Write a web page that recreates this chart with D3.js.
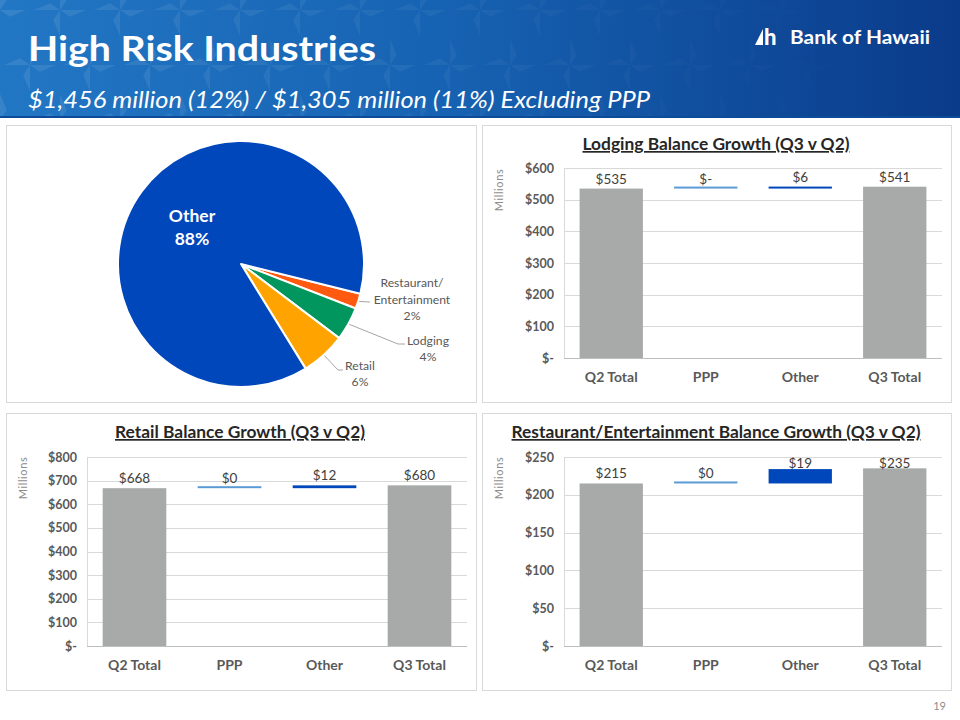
<!DOCTYPE html>
<html>
<head>
<meta charset="utf-8">
<script src="https://cdn.jsdelivr.net/npm/d3@7"></script>
<style>
  html, body { margin: 0; padding: 0; background: #ffffff; }
  svg { display: block; font-family: Lato, "Open Sans", sans-serif; }
</style>
</head>
<body>
<svg id="chart" width="960" height="720"></svg>
<script>
// ---------------- DATA ----------------
const headerTitle = "High Risk Industries";
const headerSubtitle = "$1,456 million (12%) / $1,305 million (11%) Excluding PPP";
const logoText = "Bank of Hawaii";
const pageNumber = "19";

const pieNames = ["Restaurant/Entertainment", "Lodging", "Retail", "Other"];
const pieLabelLines = [["Restaurant/", "Entertainment", "2%"], ["Lodging", "4%"], ["Retail", "6%"], ["Other", "88%"]];
const pieShares = [2.0, 4.4, 5.9, 87.7];

const barCategories = ["Q2 Total", "PPP", "Other", "Q3 Total"];
const barKinds = ["total", "delta", "delta", "total"];

const lodgingTitle = "Lodging Balance Growth (Q3 v Q2)";
const lodgingValues = [535, 0, 6, 541];
const lodgingValueLabels = ["$535", "$-", "$6", "$541"];
const lodgingTicks = [0, 100, 200, 300, 400, 500, 600];

const retailTitle = "Retail Balance Growth (Q3 v Q2)";
const retailValues = [668, 0, 12, 680];
const retailValueLabels = ["$668", "$0", "$12", "$680"];
const retailTicks = [0, 100, 200, 300, 400, 500, 600, 700, 800];

const restTitle = "Restaurant/Entertainment Balance Growth (Q3 v Q2)";
const restValues = [215, 0, 19, 235];
const restValueLabels = ["$215", "$0", "$19", "$235"];
const restTicks = [0, 50, 100, 150, 200, 250];

const axisTitle = "Millions";

// ---------------- DRAW ----------------
const svg = d3.select("#chart");
const defs = svg.append("defs");

// Header background
const grad = defs.append("linearGradient").attr("id", "hdr").attr("x1", "0").attr("x2", "1").attr("y1", "0").attr("y2", "0");
grad.append("stop").attr("offset", "0%").attr("stop-color", "#2277c4");
grad.append("stop").attr("offset", "45%").attr("stop-color", "#1763b3");
grad.append("stop").attr("offset", "100%").attr("stop-color", "#0a3b8a");
svg.append("rect").attr("x", 0).attr("y", 0).attr("width", 960).attr("height", 118).attr("fill", "url(#hdr)");

// subtle star pattern in header
const pat = svg.append("g").attr("opacity", 0.09);
const cols = d3.range(0, 17), rows = d3.range(0, 3);
cols.forEach(c => rows.forEach(r => {
  const cx = c * 60 + (r % 2 ? 30 : 0), cy = r * 55 + 10;
  const fade = Math.max(0, 1 - c / 14);
  const star = d3.range(4).map(k => {
    const a = k * Math.PI / 2;
    return `M${cx},${cy} L${cx + 26 * Math.cos(a)},${cy + 26 * Math.sin(a)} L${cx + 12 * Math.cos(a + 0.6)},${cy + 12 * Math.sin(a + 0.6)} Z`;
  }).join(" ");
  pat.append("path").attr("d", star).attr("fill", "#ffffff").attr("opacity", fade);
}));
svg.append("rect").attr("x", 0).attr("y", 116).attr("width", 960).attr("height", 2).attr("fill", "#0d4a98");

svg.append("text").attr("x", 28).attr("y", 61).attr("fill", "#ffffff")
  .attr("font-size", 35).attr("font-weight", 700)
  .attr("textLength", 348).attr("lengthAdjust", "spacingAndGlyphs").text(headerTitle);
svg.append("text").attr("x", 28).attr("y", 108).attr("fill", "#ffffff")
  .attr("font-size", 23.5).attr("font-style", "italic")
  .attr("textLength", 622).attr("lengthAdjust", "spacingAndGlyphs").text(headerSubtitle);

// logo
const logo = svg.append("g");
logo.append("path").attr("d", "M755,45 L763,29 L763,45 Z").attr("fill", "#ffffff");
logo.append("text").attr("x", 764).attr("y", 45).attr("fill", "#ffffff").attr("font-size", 22).attr("font-weight", 900).text("h");
logo.append("text").attr("x", 790).attr("y", 44).attr("fill", "#ffffff").attr("font-size", 19).attr("font-weight", 700)
  .attr("textLength", 140).attr("lengthAdjust", "spacingAndGlyphs").text(logoText);

// panels
const panels = [[6, 125, 470, 277], [482, 125, 469, 277], [6, 413, 470, 277], [482, 413, 469, 277]];
panels.forEach(p => svg.append("rect").attr("x", p[0] + 0.5).attr("y", p[1] + 0.5).attr("width", p[2]).attr("height", p[3])
  .attr("fill", "#ffffff").attr("stroke", "#d9d9d9").attr("stroke-width", 1));

// ---------------- PIE ----------------
const pieColors = ["#ff5a0f", "#00965e", "#ffa300", "#0047bb"];
const cx = 241, cy = 264, R = 123;
const startDeg = 104;
const pie = d3.pie().sort(null).value(d => d)
  .startAngle(startDeg * Math.PI / 180).endAngle(startDeg * Math.PI / 180 + 2 * Math.PI);
const arcs = pie(pieShares);
const arc = d3.arc().innerRadius(0).outerRadius(R);
const pg = svg.append("g").attr("transform", `translate(${cx},${cy})`);
pg.selectAll("path").data(arcs).join("path")
  .attr("d", arc).attr("fill", (d, i) => pieColors[i])
  .attr("stroke", "#ffffff").attr("stroke-width", 2).attr("stroke-linejoin", "round");

function polar(angle, r) { return [r * Math.sin(angle), -r * Math.cos(angle)]; }
// label layout (positions relative to centre)
const labelLayout = [
  { anchor: [171, 23], dy: 16.5, elbow: [129, 38], end: [129, 38] },
  { anchor: [187, 81], dy: 15.5, elbow: [157, 80], end: [164, 80] },
  { anchor: [119, 106], dy: 16, elbow: [97, 106], end: [102, 106] }
];
const lblColor = "#595959";
arcs.forEach((a, i) => {
  if (i === 3) return;
  const mid = (a.startAngle + a.endAngle) / 2;
  const p0 = polar(mid, R + 1);
  const L = labelLayout[i];
  pg.append("path")
    .attr("d", `M${p0[0]},${p0[1]} L${L.elbow[0]},${L.elbow[1]} L${L.end[0]},${L.end[1]}`)
    .attr("fill", "none").attr("stroke", "#a6a6a6").attr("stroke-width", 1);
  const t = pg.append("text").attr("text-anchor", "middle").attr("fill", lblColor).attr("font-size", 12.2);
  pieLabelLines[i].forEach((ln, k) => t.append("tspan").attr("x", L.anchor[0]).attr("y", L.anchor[1] + k * L.dy).text(ln));
});
const ot = pg.append("text").attr("text-anchor", "middle").attr("fill", "#ffffff").attr("font-size", 17.5).attr("font-weight", 700);
pieLabelLines[3].forEach((ln, k) => ot.append("tspan").attr("x", -49).attr("y", -42 + k * 23).text(ln));

// ---------------- WATERFALLS ----------------
function moneyTick(v) { return v === 0 ? "$-" : "$" + d3.format(",")(v); }

function waterfall(cfg) {
  const g = svg.append("g");
  const x = d3.scaleBand().domain(barCategories).range([cfg.x0, cfg.x1]).paddingInner(0.33).paddingOuter(0.165);
  const y = d3.scaleLinear().domain([0, d3.max(cfg.ticks)]).range([cfg.y0, cfg.y1]);

  // gridlines
  g.selectAll(".grid").data(cfg.ticks).join("line")
    .attr("x1", cfg.x0).attr("x2", cfg.x1)
    .attr("y1", d => Math.round(y(d)) + 0.5).attr("y2", d => Math.round(y(d)) + 0.5)
    .attr("stroke", d => d === 0 ? "#bfbfbf" : "#d9d9d9").attr("stroke-width", 1);
  g.append("line").attr("x1", cfg.x0 + 0.5).attr("x2", cfg.x0 + 0.5).attr("y1", cfg.y1).attr("y2", cfg.y0)
    .attr("stroke", "#d9d9d9");

  // y axis labels
  const yAxis = d3.axisLeft(y).tickValues(cfg.ticks).tickFormat(moneyTick).tickSize(0).tickPadding(10);
  const ya = g.append("g").attr("transform", `translate(${cfg.x0},0)`).call(yAxis);
  ya.select(".domain").remove();
  ya.selectAll("text").attr("font-family", "Lato, sans-serif").attr("font-size", 12.5).attr("font-weight", 700).attr("fill", "#595959");

  // x axis labels
  const xAxis = d3.axisBottom(x).tickSize(0).tickPadding(14);
  const xa = g.append("g").attr("transform", `translate(0,${cfg.y0})`).call(xAxis);
  xa.select(".domain").remove();
  xa.selectAll("text").attr("font-family", "Lato, sans-serif").attr("font-size", 14).attr("font-weight", 700).attr("fill", "#595959");

  // bars
  let run = 0;
  const bars = cfg.values.map((v, i) => {
    let lo, hi;
    if (barKinds[i] === "total") { lo = 0; hi = v; run = v; }
    else { lo = run; hi = run + v; run = hi; }
    return { cat: barCategories[i], lo, hi, kind: barKinds[i], label: cfg.labels[i], i };
  });
  const colorOf = d => d.kind === "total" ? "#a7aaa9" : (d.cat === "PPP" ? "#5b9bd5" : "#0047bb");
  const minH = d => d.kind === "total" ? 0 : 2;
  g.selectAll(".bar").data(bars).join("rect")
    .attr("x", d => x(d.cat)).attr("width", x.bandwidth())
    .attr("y", d => Math.min(y(d.hi), y(d.lo) - minH(d)))
    .attr("height", d => Math.max(minH(d), y(d.lo) - y(d.hi)))
    .attr("fill", colorOf);

  // value labels
  g.selectAll(".vl").data(bars).join("text")
    .attr("x", d => x(d.cat) + x.bandwidth() / 2)
    .attr("y", d => Math.max(y(d.hi) - 5, cfg.y1 + 11))
    .attr("text-anchor", "middle").attr("font-size", 13.5).attr("fill", "#404040")
    .text(d => d.label);

  // title
  svg.append("text").attr("x", cfg.tx).attr("y", cfg.ty).attr("text-anchor", "middle")
    .attr("font-size", 17).attr("font-weight", 700).attr("fill", "#262626")
    .attr("text-decoration", "underline")
    .attr("textLength", cfg.tw).attr("lengthAdjust", "spacingAndGlyphs").text(cfg.title);

  // Millions
  svg.append("text").attr("transform", `translate(${cfg.mx},${cfg.my}) rotate(-90)`)
    .attr("text-anchor", "middle").attr("font-size", 11).attr("letter-spacing", 0.6)
    .attr("fill", "#8c8c8c").text(axisTitle);
}

waterfall({ x0: 564, x1: 942, y0: 358, y1: 168, ticks: lodgingTicks, values: lodgingValues, labels: lodgingValueLabels,
  title: lodgingTitle, tx: 716, ty: 150, tw: 267, mx: 503, my: 190 });
waterfall({ x0: 87, x1: 467, y0: 646, y1: 457, ticks: retailTicks, values: retailValues, labels: retailValueLabels,
  title: retailTitle, tx: 240, ty: 438, tw: 250, mx: 27, my: 478 });
waterfall({ x0: 564, x1: 942, y0: 646, y1: 457, ticks: restTicks, values: restValues, labels: restValueLabels,
  title: restTitle, tx: 716, ty: 438, tw: 409, mx: 503, my: 478 });

// page number
svg.append("text").attr("x", 946).attr("y", 710).attr("text-anchor", "end").attr("font-size", 11)
  .attr("fill", "#8c8c8c").text(pageNumber);
</script>
</body>
</html>
